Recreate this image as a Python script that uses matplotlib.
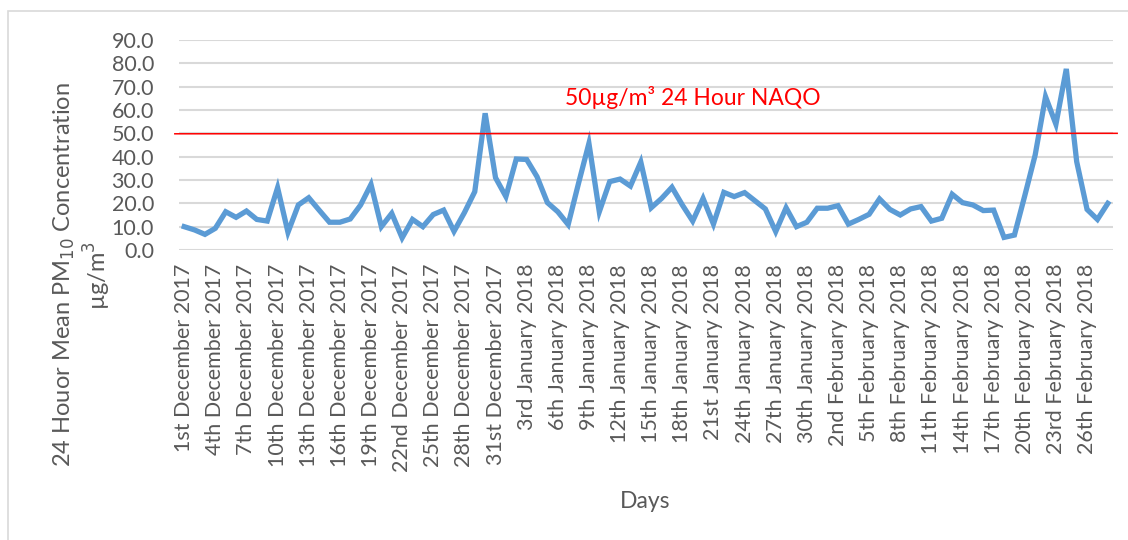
import matplotlib
matplotlib.use('Agg')
import matplotlib.pyplot as plt
from matplotlib.patches import Rectangle

'''Data'''
# daily 24 hour mean PM10, 1st December 2017 to 28th February 2018
pm10 = [10.0, 8.6, 6.7, 9.3, 16.4, 14.0, 16.7, 13.1, 12.4, 26.7,
        7.6, 19.3, 22.4, 17.1, 11.9, 11.9, 13.3, 19.3, 28.1, 10.0,
        15.7, 5.2, 13.1, 10.0, 15.2, 17.1, 8.0, 16.0, 25.0, 58.6,
        31.0, 22.9, 39.0, 38.8, 31.4, 20.3, 16.4, 10.9, 28.6, 45.7,
        16.4, 29.3, 30.4, 27.4, 37.7, 18.1, 22.1, 26.9, 19.3, 12.4,
        22.1, 11.1, 24.7, 22.9, 24.6, 21.1, 17.6, 7.9, 18.1, 10.0,
        11.9, 17.9, 17.9, 19.0, 11.1, 13.1, 15.3, 21.9, 17.4, 15.0,
        17.6, 18.6, 12.4, 13.6, 23.9, 20.3, 19.3, 16.9, 17.1, 5.4,
        6.4, 23.3, 40.7, 65.7, 53.9, 77.6, 37.9, 17.4, 13.1, 20.0]

tick_labels = ['1st December 2017', '4th December 2017', '7th December 2017',
               '10th December 2017', '13th December 2017', '16th December 2017',
               '19th December 2017', '22nd December 2017', '25th December 2017',
               '28th December 2017', '31st December 2017', '3rd January 2018',
               '6th January 2018', '9th January 2018', '12th January 2018',
               '15th January 2018', '18th January 2018', '21st January 2018',
               '24th January 2018', '27th January 2018', '30th January 2018',
               '2nd February 2018', '5th February 2018', '8th February 2018',
               '11th February 2018', '14th February 2018', '17th February 2018',
               '20th February 2018', '23rd February 2018', '26th February 2018']

yticks = [0, 10, 20, 30, 40, 50, 60, 70, 80, 90]
naqo = 50 # 24 hour objective
naqo_text = '50µg/m³ 24 Hour NAQO'

'''Plot'''
plt.rcParams['font.family'] = ['Lato', 'DejaVu Sans']
grey = '#595959'

fig = plt.figure(figsize=(11.28, 5.4), dpi=100)
ax = fig.add_axes([179/1128, 1 - 250/540, (1113 - 179)/1128, 210/540])

days = list(range(len(pm10)))
ax.plot(days, pm10, color='#5B9BD5', linewidth=3.8, solid_joinstyle='miter', zorder=3)
ax.plot([-0.9, 89.9], [naqo - 0.2, naqo], color='#FF0000', linewidth=1.1, clip_on=False, zorder=4)
ax.text(49, 65.5, naqo_text, color='#FF0000', fontsize=16.5, ha='center', va='center')

ax.set_xlim(-0.5, len(pm10) - 0.5)
ax.set_ylim(0, 90)
ax.set_yticks(yticks)
ax.set_yticklabels(['%.1f' % v for v in yticks])
ax.set_xticks(days[::3])
ax.set_xticklabels(tick_labels, rotation=90)
ax.tick_params(axis='both', length=0, colors=grey, labelsize=15.5)
ax.tick_params(axis='y', pad=18)
ax.tick_params(axis='x', pad=10)
ax.grid(axis='y', color='#D9D9D9', linewidth=1.5)
ax.set_axisbelow(True)
for s in ax.spines.values():
    s.set_visible(False)

fig.text(645/1128, 1 - 502/540, 'Days', color=grey, fontsize=16.5, ha='center', va='center')
fig.text(64/1128, 1 - 275/540, '24 Houor Mean PM$_{10}$ Concentration', color=grey,
         fontsize=17, rotation=90, ha='center', va='center')
fig.text(97/1128, 1 - 275/540, 'µg/m$^3$', color=grey, fontsize=17, rotation=90,
         ha='center', va='center')

# chart frame
fig.patches.append(Rectangle((8/1128, -0.1), 1.2, 1 - 11/540 + 0.1, transform=fig.transFigure,
                             fill=False, edgecolor='#D9D9D9', linewidth=1.2))

plt.savefig('out.png', dpi=100)
